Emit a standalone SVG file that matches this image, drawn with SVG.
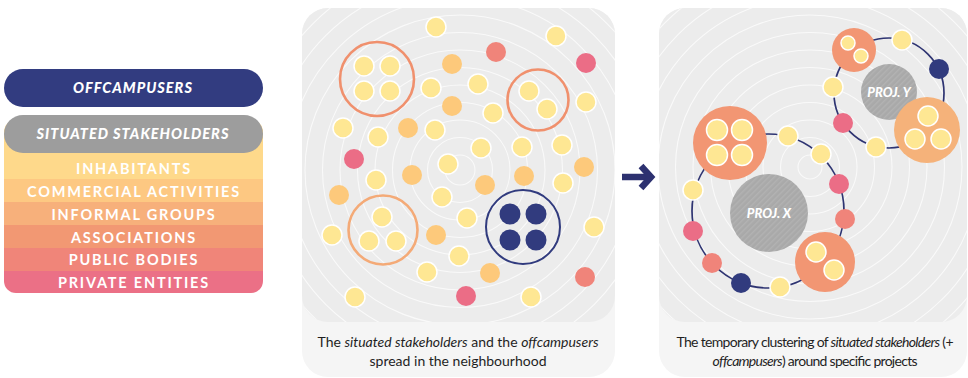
<svg xmlns="http://www.w3.org/2000/svg" width="968" height="378" viewBox="0 0 968 378">
  <style>
    .y { fill: #fee793; stroke: #ffffff; stroke-width: 1.5; }
    .o { fill: #fdc97b; }
    .s { fill: #f0847a; }
    .p { fill: #eb6d86; }
    .n { fill: #313b7e; }
    .ring { fill: none; stroke: #ffffff; stroke-width: 1.1; opacity: 0.7; }
    .pill { font-family: Lato, "Liberation Sans", sans-serif; font-weight: 900; font-style: italic; font-size: 14.5px; fill: #ffffff; text-anchor: middle; letter-spacing: 1px; }
    .band { font-family: Lato, "Liberation Sans", sans-serif; font-weight: 700; font-size: 14.5px; fill: #ffffff; text-anchor: middle; letter-spacing: 1.8px; }
    .cap { font-family: Lato, "Liberation Sans", sans-serif; font-size: 14px; fill: #1f1f1f; text-anchor: middle; }
    .proj { font-family: Lato, "Liberation Sans", sans-serif; font-weight: 900; font-style: italic; font-size: 13px; fill: #ffffff; text-anchor: middle; }
    .link { fill: none; stroke: #2e3472; stroke-width: 1.7; }
  </style>
  <defs>
    <clipPath id="clipMid"><rect x="302" y="8" width="313" height="314" rx="26"/></clipPath>
    <clipPath id="clipRight"><rect x="659" y="8" width="308" height="314" rx="26"/></clipPath>
    <clipPath id="clipStack"><rect x="4" y="120" width="259" height="173" rx="12"/></clipPath>
    <pattern id="hatch" width="4" height="4" patternUnits="userSpaceOnUse" patternTransform="rotate(45)">
      <rect width="4" height="4" fill="#a9a9a9"/>
      <rect width="1.5" height="4" fill="#b2b2b2"/>
    </pattern>
  </defs>

  <!-- legend -->
  <g id="legend">
    <g id="stack" clip-path="url(#clipStack)">
      <rect x="4" y="120" width="259" height="59" fill="#fed98b"/>
      <rect x="4" y="179" width="259" height="23" fill="#fdc882"/>
      <rect x="4" y="202" width="259" height="23" fill="#f7b07b"/>
      <rect x="4" y="225" width="259" height="23" fill="#f29873"/>
      <rect x="4" y="248" width="259" height="23" fill="#f08579"/>
      <rect x="4" y="271" width="259" height="22" fill="#eb7086"/>
    </g>
    <text class="band" x="134" y="174">INHABITANTS</text>
    <text class="band" x="134" y="197">COMMERCIAL ACTIVITIES</text>
    <text class="band" x="134" y="220">INFORMAL GROUPS</text>
    <text class="band" x="134" y="243">ASSOCIATIONS</text>
    <text class="band" x="134" y="265">PUBLIC BODIES</text>
    <text class="band" x="134" y="288">PRIVATE ENTITIES</text>
    <g id="offcampusers">
      <rect x="4" y="69" width="259" height="38" rx="19" fill="#323c80"/>
      <text class="pill" x="133" y="93">OFFCAMPUSERS</text>
    </g>
    <g id="situated-stakeholders">
      <rect x="4" y="115" width="259" height="38" rx="19" fill="#9d9d9d"/>
      <text class="pill" x="133" y="139">SITUATED STAKEHOLDERS</text>
    </g>
  </g>

  <!-- panel 1: spread -->
  <g id="panel-spread">
    <rect x="302" y="8" width="313" height="369" rx="26" fill="#f5f5f5"/>
    <rect x="302" y="8" width="313" height="314" rx="26" fill="#ececec"/>
    <g clip-path="url(#clipMid)">
      <circle class="ring" cx="460" cy="170" r="15"/>
      <circle class="ring" cx="460" cy="170" r="32.5"/>
      <circle class="ring" cx="460" cy="170" r="50"/>
      <circle class="ring" cx="460" cy="170" r="67.5"/>
      <circle class="ring" cx="460" cy="170" r="85"/>
      <circle class="ring" cx="460" cy="170" r="102.5"/>
      <circle class="ring" cx="460" cy="170" r="120"/>
      <circle class="ring" cx="460" cy="170" r="137.5"/>
      <circle class="ring" cx="460" cy="170" r="155"/>
      <circle class="ring" cx="460" cy="170" r="172.5"/>
      <circle class="ring" cx="460" cy="170" r="190"/>
      <circle class="ring" cx="460" cy="170" r="207.5"/>
      <circle class="ring" cx="460" cy="170" r="225"/>
      <circle class="ring" cx="460" cy="170" r="242.5"/>
    </g>

    <g id="cluster-a">
      <circle cx="377" cy="79" r="37" fill="none" stroke="#f0906d" stroke-width="2.6"/>
      <circle class="y" cx="364" cy="66" r="10"/>
      <circle class="y" cx="390" cy="66" r="10"/>
      <circle class="y" cx="364" cy="91" r="10"/>
      <circle class="y" cx="390" cy="91" r="10"/>
    </g>
    <g id="cluster-b">
      <circle cx="538" cy="100" r="30.5" fill="none" stroke="#f0906d" stroke-width="2.6"/>
      <circle class="y" cx="529" cy="91" r="10"/>
      <circle class="y" cx="547" cy="109" r="10"/>
    </g>
    <g id="cluster-c">
      <circle cx="383" cy="230" r="34.5" fill="none" stroke="#f4aa77" stroke-width="2.6"/>
      <circle class="y" cx="382" cy="217" r="10"/>
      <circle class="y" cx="369" cy="241" r="10"/>
      <circle class="y" cx="396" cy="241" r="10"/>
    </g>
    <g id="cluster-offcampusers">
      <circle cx="523" cy="227" r="37" fill="none" stroke="#313b7e" stroke-width="2"/>
      <circle class="n" cx="510" cy="214" r="10.5"/>
      <circle class="n" cx="536" cy="214" r="10.5"/>
      <circle class="n" cx="510" cy="240" r="10.5"/>
      <circle class="n" cx="536" cy="240" r="10.5"/>
    </g>

    <g id="stakeholders-spread">
      <circle class="y" cx="436" cy="27" r="10"/>
      <circle class="y" cx="556" cy="36" r="10"/>
      <circle class="s" cx="496" cy="52" r="10"/>
      <circle class="p" cx="586" cy="63" r="10"/>
      <circle class="o" cx="452" cy="64" r="10"/>
      <circle class="y" cx="431" cy="88" r="10"/>
      <circle class="y" cx="478" cy="84" r="10"/>
      <circle class="y" cx="586" cy="102" r="10"/>
      <circle class="o" cx="452" cy="106" r="10"/>
      <circle class="y" cx="493" cy="113" r="10"/>
      <circle class="y" cx="343" cy="128" r="10"/>
      <circle class="y" cx="378" cy="137" r="10"/>
      <circle class="o" cx="408" cy="128" r="10"/>
      <circle class="y" cx="435" cy="130" r="10"/>
      <circle class="y" cx="481" cy="148" r="10"/>
      <circle class="y" cx="522" cy="147" r="10"/>
      <circle class="y" cx="562" cy="145" r="10"/>
      <circle class="p" cx="354" cy="159" r="10"/>
      <circle class="y" cx="448" cy="164" r="10"/>
      <circle class="o" cx="584" cy="167" r="10"/>
      <circle class="y" cx="376" cy="180" r="10"/>
      <circle class="o" cx="412" cy="175" r="10"/>
      <circle class="o" cx="524" cy="176" r="10"/>
      <circle class="o" cx="485" cy="185" r="10"/>
      <circle class="y" cx="563" cy="183" r="10"/>
      <circle class="o" cx="339" cy="195" r="10"/>
      <circle class="y" cx="442" cy="197" r="10"/>
      <circle class="y" cx="467" cy="218" r="10"/>
      <circle class="y" cx="594" cy="227" r="10"/>
      <circle class="y" cx="332" cy="235" r="10"/>
      <circle class="o" cx="436" cy="235" r="10"/>
      <circle class="y" cx="459" cy="256" r="10"/>
      <circle class="y" cx="427" cy="272" r="10"/>
      <circle class="o" cx="490" cy="273" r="10"/>
      <circle class="s" cx="585" cy="277" r="10"/>
      <circle class="y" cx="355" cy="297" r="10"/>
      <circle class="p" cx="466" cy="296" r="10"/>
      <circle class="y" cx="531" cy="297" r="10"/>
    </g>

    <text class="cap" x="458" y="347" textLength="281" lengthAdjust="spacing">The <tspan font-style="italic">situated stakeholders</tspan> and the <tspan font-style="italic">offcampusers</tspan></text>
    <text class="cap" x="458" y="366" textLength="177" lengthAdjust="spacing">spread in the neighbourhood</text>
  </g>

  <!-- arrow between panels -->
  <g id="arrow" fill="none" stroke="#2d3170" stroke-width="6.5">
    <path d="M622 177 H649"/>
    <path d="M641 166 L651 177 L641 188"/>
  </g>

  <!-- panel 2: clustering around projects -->
  <g id="panel-clusters">
    <rect x="659" y="8" width="308" height="369" rx="26" fill="#f5f5f5"/>
    <rect x="659" y="8" width="308" height="314" rx="26" fill="#ececec"/>
    <g clip-path="url(#clipRight)">
      <circle class="ring" cx="810" cy="167" r="12"/>
      <circle class="ring" cx="810" cy="167" r="29.5"/>
      <circle class="ring" cx="810" cy="167" r="47"/>
      <circle class="ring" cx="810" cy="167" r="64.5"/>
      <circle class="ring" cx="810" cy="167" r="82"/>
      <circle class="ring" cx="810" cy="167" r="99.5"/>
      <circle class="ring" cx="810" cy="167" r="117"/>
      <circle class="ring" cx="810" cy="167" r="134.5"/>
      <circle class="ring" cx="810" cy="167" r="152"/>
      <circle class="ring" cx="810" cy="167" r="169.5"/>
      <circle class="ring" cx="810" cy="167" r="187"/>
      <circle class="ring" cx="810" cy="167" r="204.5"/>
      <circle class="ring" cx="810" cy="167" r="222"/>
      <circle class="ring" cx="810" cy="167" r="239.5"/>
    </g>

    <g id="connectors">
      <ellipse class="link" cx="768" cy="211" rx="76" ry="77"/>
      <circle class="link" cx="889" cy="93" r="55"/>
    </g>

    <g id="proj-x">
      <circle cx="769" cy="213" r="39" fill="url(#hatch)"/>
      <text class="proj" x="769" y="218">PROJ. X</text>
    </g>
    <g id="proj-y">
      <circle cx="889" cy="92" r="28" fill="url(#hatch)"/>
      <text class="proj" x="889" y="97">PROJ. Y</text>
    </g>

    <g id="cluster-x1">
      <circle cx="730" cy="143" r="37" fill="#f29673"/>
      <circle class="y" cx="717" cy="130" r="10.5"/>
      <circle class="y" cx="742" cy="130" r="10.5"/>
      <circle class="y" cx="717" cy="155" r="10.5"/>
      <circle class="y" cx="742" cy="155" r="10.5"/>
    </g>
    <g id="cluster-x2">
      <circle cx="825" cy="262" r="30" fill="#f29673"/>
      <circle class="y" cx="816" cy="252" r="10"/>
      <circle class="y" cx="834" cy="270" r="10"/>
    </g>
    <g id="cluster-y1">
      <circle cx="854" cy="50" r="22" fill="#f29673"/>
      <circle class="y" cx="848" cy="43" r="7"/>
      <circle class="y" cx="861" cy="56" r="7"/>
    </g>
    <g id="cluster-y2">
      <circle cx="927" cy="130" r="33" fill="#f5b27a"/>
      <circle class="y" cx="928" cy="116" r="10"/>
      <circle class="y" cx="915" cy="139" r="10"/>
      <circle class="y" cx="941" cy="139" r="10"/>
    </g>

    <g id="members-x">
      <circle class="y" cx="788" cy="136" r="10"/>
      <circle class="y" cx="821" cy="154" r="10"/>
      <circle class="p" cx="839" cy="184" r="10"/>
      <circle class="s" cx="845" cy="219" r="10"/>
      <circle class="y" cx="780" cy="287" r="10"/>
      <circle class="n" cx="741" cy="283" r="10"/>
      <circle class="s" cx="712" cy="263" r="10"/>
      <circle class="p" cx="693" cy="231" r="10"/>
      <circle class="y" cx="693" cy="190" r="10"/>
    </g>
    <g id="members-y">
      <circle class="y" cx="902" cy="40" r="10"/>
      <circle class="n" cx="939" cy="69" r="10"/>
      <circle class="y" cx="876" cy="147" r="10"/>
      <circle class="p" cx="843" cy="123" r="10"/>
      <circle class="y" cx="833" cy="87" r="10"/>
    </g>

    <text class="cap" x="815" y="347" textLength="277" lengthAdjust="spacing">The temporary clustering of <tspan font-style="italic">situated stakeholders</tspan> (+</text>
    <text class="cap" x="815" y="366" textLength="205" lengthAdjust="spacing"><tspan font-style="italic">offcampusers</tspan>) around specific projects</text>
  </g>
</svg>
